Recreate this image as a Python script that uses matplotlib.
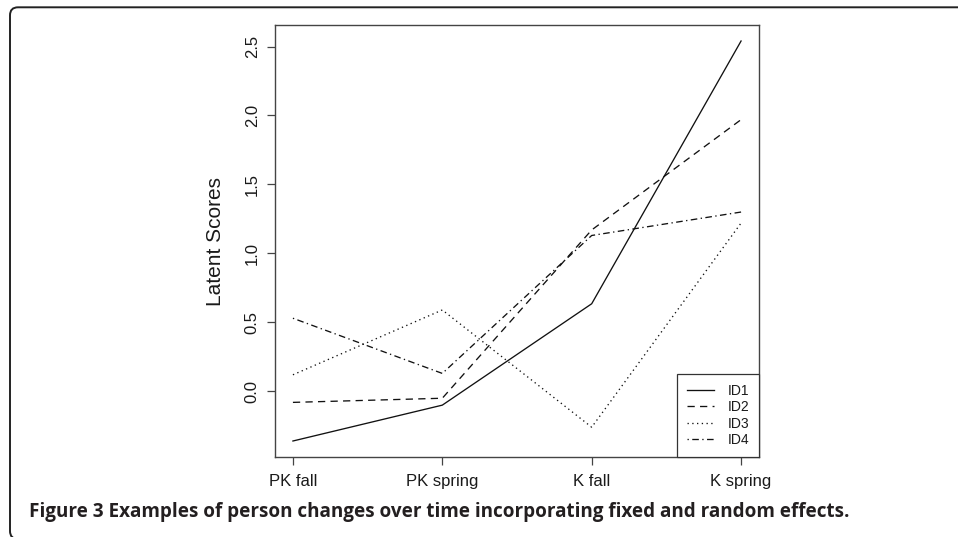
import matplotlib
matplotlib.use("Agg")
import matplotlib.pyplot as plt
from matplotlib.patches import FancyBboxPatch

# ---- data ----
time_points = ["PK fall", "PK spring", "K fall", "K spring"]
id1 = [-0.36, -0.10, 0.635, 2.54]
id2 = [-0.08, -0.05, 1.17, 1.97]
id3 = [0.12, 0.59, -0.26, 1.22]
id4 = [0.53, 0.13, 1.13, 1.30]
series_labels = ["ID1", "ID2", "ID3", "ID4"]
y_ticks = [0.0, 0.5, 1.0, 1.5, 2.0, 2.5]
y_label = "Latent Scores"
caption = "Figure 3 Examples of person changes over time incorporating fixed and random effects."

plt.rcParams['font.family'] = ['Liberation Sans', 'DejaVu Sans']

W, H = 958, 537
fig = plt.figure(figsize=(W / 100, H / 100), dpi=100)
ax = fig.add_axes([275 / W, 1 - 457 / H, (759 - 275) / W, (457 - 25) / H])

x = list(range(1, len(time_points) + 1))
styles = [
    dict(linestyle='-'),
    dict(linestyle=(0, (5.5, 4))),
    dict(linestyle=(0, (1.0, 2.6))),
    dict(linestyle=(0, (1.0, 2.6, 5.0, 2.6))),
]
for vals, lab, st in zip([id1, id2, id3, id4], series_labels, styles):
    ax.plot(x, vals, color='#111111', linewidth=0.95, label=lab,
            dash_capstyle='butt', **st)

# R-style 4% padding
all_vals = id1 + id2 + id3 + id4
lo, hi = min(all_vals), max(all_vals)
pad = 0.04 * (hi - lo)
ax.set_ylim(lo - pad, hi + pad)
xpad = 0.04 * (x[-1] - x[0])
ax.set_xlim(x[0] - xpad, x[-1] + xpad)

ax.set_xticks(x)
ax.set_xticklabels(time_points, fontsize=12, color='#1a1a1a')
ax.set_yticks(y_ticks)
ax.set_yticklabels([f"{v:.1f}" for v in y_ticks], fontsize=12, color='#1a1a1a',
                   rotation=90, va='center')
ax.tick_params(axis='both', direction='out', length=6, width=0.9, color='#444444')
ax.tick_params(axis='x', pad=6.5)
ax.tick_params(axis='y', pad=5)
for sp in ax.spines.values():
    sp.set_color('#444444')
    sp.set_linewidth(1.0)

ax.text(-0.122, 0.5, y_label, transform=ax.transAxes, rotation=90,
        ha='center', va='center', fontsize=15, color='#1a1a1a')

leg = ax.legend(loc='lower right', fontsize=10, frameon=True, fancybox=False,
                borderaxespad=0, handlelength=1.94, handletextpad=1.0,
                borderpad=0.7, labelspacing=0.18)
leg.get_frame().set_edgecolor('#333333')
leg.get_frame().set_linewidth(0.9)
leg.get_frame().set_alpha(1)
for t in leg.get_texts():
    t.set_color('#1a1a1a')

# frame around the figure
frame = FancyBboxPatch((0.10, -0.02), 9.8, 5.37 - 0.073 + 0.02,
                       boxstyle="round,pad=0,rounding_size=0.08",
                       transform=fig.dpi_scale_trans, fill=False,
                       edgecolor='#222222', linewidth=1.4, clip_on=False)
fig.patches.append(frame)

cap = fig.text(29 / W, 1 - 517 / H, caption, ha='left', va='baseline',
               fontsize=12, fontweight='bold', color='#231f20',
               family=['Open Sans', 'DejaVu Sans'])
# fit caption width to the reference (~816 px)
fig.canvas.draw()
bb = cap.get_window_extent()
cap.set_fontsize(12 * 816 / bb.width)

fig.savefig("out.png", dpi=100)
